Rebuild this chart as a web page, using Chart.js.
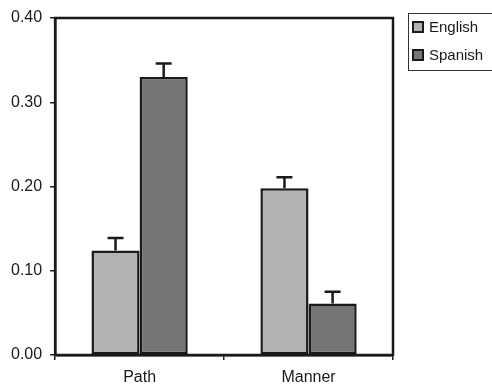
<!DOCTYPE html>
<html>
<head>
<meta charset="utf-8">
<script src="https://cdn.jsdelivr.net/npm/chart.js@4/dist/chart.umd.min.js"></script>
<style>
  html, body { margin: 0; padding: 0; background: #fff; }
  #wrap { width: 492px; height: 386px; }
</style>
</head>
<body>
<div id="wrap"><canvas id="myChart" width="492" height="386"></canvas></div>
<script>
const categories = ["Path", "Manner"];
const english = [0.124, 0.198];
const englishErr = [0.015, 0.013];
const spanish = [0.330, 0.061];
const spanishErr = [0.016, 0.014];
const yTicks = [0, 0.1, 0.2, 0.3, 0.4];

const font = { family: "'Liberation Sans', Arial, sans-serif", size: 16, lineHeight: 1 };

// error bars, upward only
const errorBars = {
  id: "errorBars",
  afterDatasetsDraw(chart) {
    const ctx = chart.ctx;
    const y = chart.scales.y;
    ctx.save();
    ctx.strokeStyle = "#1a1a1a";
    ctx.lineWidth = 2.5;
    chart.data.datasets.forEach((ds, i) => {
      const meta = chart.getDatasetMeta(i);
      meta.data.forEach((bar, j) => {
        const top = y.getPixelForValue(ds.data[j] + ds.errors[j]);
        ctx.beginPath();
        ctx.moveTo(bar.x, bar.y);
        ctx.lineTo(bar.x, top);
        ctx.moveTo(bar.x - 8, top);
        ctx.lineTo(bar.x + 8, top);
        ctx.stroke();
      });
    });
    ctx.restore();
  },
};

// box around the plot and the legend
const frame = {
  id: "frame",
  afterDraw(chart) {
    const ctx = chart.ctx;
    const a = chart.chartArea;
    ctx.save();
    ctx.strokeStyle = "#1a1a1a";
    ctx.lineWidth = 2.5;
    ctx.strokeRect(a.left, a.top, a.right - a.left, a.bottom - a.top);

    // legend
    ctx.lineWidth = 1;
    ctx.strokeStyle = "#333";
    ctx.strokeRect(408.5, 13.5, 100, 57);
    ctx.font = "15px " + font.family;
    ctx.textBaseline = "middle";
    chart.data.datasets.forEach((ds, i) => {
      const cy = 27 + i * 28;
      ctx.fillStyle = ds.backgroundColor;
      ctx.fillRect(413, cy - 5, 10, 10);
      ctx.lineWidth = 2;
      ctx.strokeStyle = "#1a1a1a";
      ctx.strokeRect(413, cy - 5, 10, 10);
      ctx.fillStyle = "#1a1a1a";
      ctx.fillText(ds.label, 429, cy + 1);
    });
    ctx.restore();
  },
};

new Chart(document.getElementById("myChart"), {
  type: "bar",
  data: {
    labels: categories,
    datasets: [
      {
        label: "English",
        data: english,
        errors: englishErr,
        backgroundColor: "#b1b2b4",
        borderColor: "#1a1a1a",
        borderWidth: 2.5,
        borderSkipped: false,
        categoryPercentage: 0.57,
        barPercentage: 1,
      },
      {
        label: "Spanish",
        data: spanish,
        errors: spanishErr,
        backgroundColor: "#747577",
        borderColor: "#1a1a1a",
        borderWidth: 2.5,
        borderSkipped: false,
        categoryPercentage: 0.57,
        barPercentage: 1,
      },
    ],
  },
  options: {
    responsive: false,
    animation: false,
    layout: { padding: { left: 3, right: 99, top: 18, bottom: -10 } },
    plugins: { legend: { display: false }, tooltip: { enabled: false } },
    scales: {
      x: {
        grid: {
          offset: true,
          drawOnChartArea: false,
          drawTicks: true,
          tickLength: 5,
          color: "#1a1a1a",
          lineWidth: 1.5,
        },
        border: { display: true, color: "#1a1a1a", width: 2.5 },
        ticks: { color: "#1a1a1a", font: font, padding: 10 },
      },
      y: {
        min: 0,
        max: 0.4,
        afterBuildTicks(axis) {
          axis.ticks = yTicks.map((v) => ({ value: v }));
        },
        grid: {
          drawOnChartArea: false,
          drawTicks: true,
          tickLength: 5,
          color: "#1a1a1a",
          lineWidth: 1.5,
        },
        border: { display: true, color: "#1a1a1a", width: 2.5 },
        ticks: {
          color: "#1a1a1a",
          font: font,
          padding: 8,
          callback: (v) => Number(v).toFixed(2),
        },
      },
    },
  },
  plugins: [errorBars, frame],
});
</script>
</body>
</html>
